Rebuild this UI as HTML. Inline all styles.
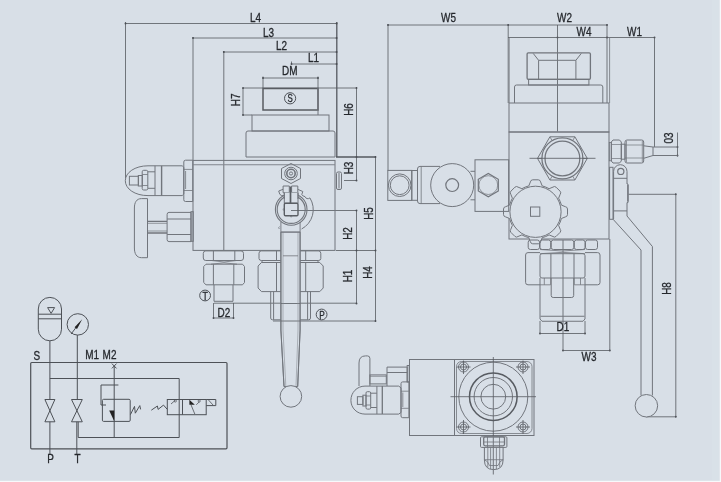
<!DOCTYPE html>
<html>
<head>
<meta charset="utf-8">
<title>Valve block dimensions</title>
<style>
html,body{margin:0;padding:0;background:#d8dfe7;}
body{width:721px;height:482px;overflow:hidden;font-family:"Liberation Sans",sans-serif;}
svg{display:block;position:absolute;left:0;top:0;}
#art{filter:blur(.42px);}
.l{stroke:#71757c;stroke-width:1;fill:none;}
.f{stroke:#71757c;stroke-width:1;fill:#d8dfe7;}
.k{stroke:#585c62;stroke-width:1.5;fill:none;}
.d{stroke:#55595f;stroke-width:0.8;fill:none;}
.s{stroke:#4d5157;stroke-width:1;fill:none;}
text{font-family:"Liberation Sans",sans-serif;font-size:12px;fill:#25282d;stroke:#25282d;stroke-width:.3px;}
.b{fill:#222;stroke:none;}
</style>
</head>
<body>
<svg width="721" height="482" viewBox="0 0 721 482">
<rect x="0" y="0" width="721" height="482" fill="#d8dfe7"/>
<g id="art">

<!-- ================= SIDE VIEW : dimensions ================= -->
<g class="d" id="sv-dims">
<path d="M125.5 23.5H336.5M125.5 22V178"/>
<path d="M193 38H336.5M193 37V160"/>
<path d="M223.8 52H336.5M223.8 51V250"/>
<path d="M291.5 64H336.5M291.5 61.5V64"/>
<path d="M336.8 22V157" stroke-width="1.3"/>
<path d="M263 78H318M263 76.5V88M318 76.5V88"/>
<path d="M243 88H356.5M243 115H252M243 88V115"/>
<path d="M356.5 87V180.5M344 180.5H356.5"/>
<path d="M336 157H376" stroke-width="1.3"/>
<path d="M375.5 156V321.5"/>
<path d="M291 210.5H356.5M356.5 210.5V304"/>
<path d="M336 250.5H376"/>
<path d="M214 303.2H356.5"/>
<path d="M273 321H376"/>
<path d="M213.5 303V318.5M233.5 303V318.5M213.5 318H233.5"/>
</g>
<g id="sv-text">
<text transform="translate(250,22) scale(.83,1)">L4</text>
<text transform="translate(263,36.5) scale(.83,1)">L3</text>
<text transform="translate(276,50) scale(.83,1)">L2</text>
<text transform="translate(308,62) scale(.83,1)">L1</text>
<text transform="translate(282,75) scale(.83,1)">DM</text>
<text transform="translate(217.5,316.5) scale(.83,1)">D2</text>
<text text-anchor="middle" transform="translate(239.8,99.8) rotate(-90) scale(.83,1)">H7</text>
<text text-anchor="middle" transform="translate(352.5,109.5) rotate(-90) scale(.83,1)">H6</text>
<text text-anchor="middle" transform="translate(352.5,168) rotate(-90) scale(.83,1)">H3</text>
<text text-anchor="middle" transform="translate(372.5,213.5) rotate(-90) scale(.83,1)">H5</text>
<text text-anchor="middle" transform="translate(352,233.5) rotate(-90) scale(.83,1)">H2</text>
<text text-anchor="middle" transform="translate(352,276) rotate(-90) scale(.83,1)">H1</text>
<text text-anchor="middle" transform="translate(372,272.5) rotate(-90) scale(.83,1)">H4</text>
</g>

<g id="dots" fill="#4a4e54" stroke="none"><circle cx="125.5" cy="23.5" r=".95"/><circle cx="336.6" cy="23.5" r=".95"/><circle cx="193.0" cy="38.0" r=".95"/><circle cx="336.6" cy="38.0" r=".95"/><circle cx="223.8" cy="52.0" r=".95"/><circle cx="336.6" cy="52.0" r=".95"/><circle cx="291.5" cy="64.0" r=".95"/><circle cx="336.6" cy="64.0" r=".95"/><circle cx="263.0" cy="78.0" r=".95"/><circle cx="318.0" cy="78.0" r=".95"/><circle cx="243.0" cy="88.0" r=".95"/><circle cx="243.0" cy="115.0" r=".95"/><circle cx="356.5" cy="88.0" r=".95"/><circle cx="356.5" cy="157.0" r=".95"/><circle cx="356.5" cy="180.5" r=".95"/><circle cx="375.5" cy="157.0" r=".95"/><circle cx="375.5" cy="321.0" r=".95"/><circle cx="356.5" cy="210.5" r=".95"/><circle cx="356.5" cy="250.5" r=".95"/><circle cx="356.5" cy="303.5" r=".95"/><circle cx="375.5" cy="250.5" r=".95"/><circle cx="213.5" cy="318.0" r=".95"/><circle cx="233.5" cy="318.0" r=".95"/><circle cx="388.0" cy="25.0" r=".95"/><circle cx="508.2" cy="25.0" r=".95"/><circle cx="607.0" cy="25.0" r=".95"/><circle cx="557.5" cy="37.5" r=".95"/><circle cx="607.0" cy="37.5" r=".95"/><circle cx="654.5" cy="37.5" r=".95"/><circle cx="563.0" cy="350.5" r=".95"/><circle cx="609.8" cy="350.5" r=".95"/><circle cx="540.0" cy="333.5" r=".95"/><circle cx="585.0" cy="333.5" r=".95"/><circle cx="675.8" cy="194.3" r=".95"/><circle cx="675.8" cy="416.8" r=".95"/><circle cx="677.5" cy="147.0" r=".95"/><circle cx="677.5" cy="155.5" r=".95"/></g>
<!-- ================= SIDE VIEW : body ================= -->
<g class="l" id="sv-body">
<rect class="k" x="263" y="88.5" width="55" height="21.5"/>
<path d="M318 88V115"/>
<rect x="252" y="115" width="77" height="16"/>
<path d="M246 157V133Q246 131 248 131H333Q335 131 335 133V157Z"/>
<rect x="193" y="160.4" width="142" height="90"/>
<path d="M193 164.7H335" stroke-width="1.1" stroke="#80858c"/>
<!-- hex screw -->
<path d="M291 163.5L300.5 168.5V178.5L291 183.5L281.5 178.5V168.5Z"/>
<circle cx="291" cy="173.5" r="6.3"/>
<circle cx="291" cy="173.5" r="4.2" stroke-width="1.6"/>
<circle cx="291" cy="173.5" r="1.6"/>
<!-- right plug -->
<rect x="336.5" y="172" width="5" height="17.5" rx="1.5"/>
<path d="M339 173V188.5"/>
</g>

<!-- left relief cap + hex -->
<g class="l" id="sv-left">
<!-- hex nut, 3 facets -->
<path d="M185.5 160.2H192.8V201.5H185.5Q183.8 201.5 183.8 199.8V162Q183.8 160.2 185.5 160.2Z"/>
<path d="M183.8 169.4H192.8M183.8 190.5H192.8M185.6 171V189" stroke-width=".8"/>
<!-- dome -->
<path d="M182.2 165.8H148C135 165.8 125.3 172.5 125.3 180.7C125.3 189 135 195.6 148 195.6H182.2L183.8 194V167.3Z"/>
<path d="M155 165.8V195.6"/><path d="M161.6 165.8V195.6" stroke-width="1.4"/>
<rect x="129.4" y="176.3" width="9" height="8.7"/>
<rect x="138.3" y="175.5" width="4" height="10.5"/>
<rect x="142.2" y="170.3" width="5.6" height="19.7" rx="1.5"/>
<path d="M142.2 174.5H147.8M142.2 185.5H147.8" stroke-width=".8"/>
<path d="M147.8 171.8H155M147.8 188.3H155"/>
<!-- T handle -->
<path d="M147.5 198.6H141.5C136.5 198.6 134.4 202.5 134.4 208V248C134.4 253.5 136.5 257.7 141.5 257.7H147.5Z"/>
<path d="M147.5 221.3H167M147.5 233H167" stroke-width="1.3"/>
<path d="M147.5 223.3H167M147.5 231H167" stroke-width=".7"/>
<path d="M169 212.4H191V241.6H169Q167.1 241.6 167.1 239.5V214.5Q167.1 212.4 169 212.4Z"/>
<path d="M167.1 219H191M167.1 234.5H191"/>
<rect x="191" y="211.7" width="2.2" height="29.6"/>
</g>

<!-- bottom fittings side view -->
<g class="l" id="sv-fit">
<!-- T fitting -->
<rect x="203.3" y="250.9" width="40.2" height="9.6" rx="2.5"/>
<path d="M213.4 251V260.5M234.8 251V260.5"/>
<path d="M211.5 260.5Q224 263.5 236.5 260.5M211 264.2Q224 261.5 237 264.2" stroke-width=".8"/>
<path d="M206 264.2H242.5L244.5 266.5V282.5L242.5 284.8H206L203.7 282.5V266.5Z"/>
<path d="M213.4 264.2V284.8M233.8 264.2V284.8"/>
<path d="M214 284.8V301.3H233V284.8"/>
<!-- P fitting left -->
<path d="M280.9 250.9H261.5Q259 250.9 259 253.2V258.5Q259 260.5 261.5 260.5H280.9"/>
<path d="M276.5 251V260.5"/>
<path d="M282 262.5H261.5L258.1 266V288L261.5 291.6H282"/>
<path d="M276.5 262.5V291.6M262 260.5V262.5"/>
<path d="M270.7 291.6V318Q270.7 319.8 272.5 319.8H282M273.6 291.6V319.8"/>
<!-- P fitting right -->
<path d="M300 250.9H318.3Q320.8 250.9 320.8 253.2V258.5Q320.8 260.5 318.3 260.5H300"/>
<path d="M305.7 251V260.5"/>
<path d="M300 262.5H319.8L323.2 266V288L319.8 291.6H300"/>
<path d="M305.7 262.5V291.6M318 260.5V262.5"/>
<path d="M310.5 291.6V318Q310.5 319.8 308.7 319.8H300M307.6 291.6V319.8"/>
</g>

<!-- ball valve shaft + handle -->
<g class="l" id="sv-handle">
<circle cx="291.2" cy="209.4" r="14" stroke-width="1.1"/>
<circle cx="291.2" cy="209.4" r="15.8" stroke-width="1.1"/>
<path d="M297.7 189.3L302.8 191.5L301.8 194.5Q303 196.5 305 196.6A3 3 0 0 0 309.9 197.9A22 22 0 0 1 301.6 229"/>
<path d="M283.1 189.3L278.7 191L279.8 194.3Q281 195.8 283.5 195.8"/>
<path class="f" d="M283.1 186H289.3V192.7H283.1ZM291.6 186H297.8V192.7H291.6Z"/>
<path class="f" d="M284.3 192.7V203.3H298V192.7" stroke="none"/>
<path d="M284.3 192.7V199M298 192.7V199"/>
<rect x="284.3" y="203.3" width="13.7" height="12.4" rx="1.2" stroke-width="1.4" stroke="#5a5e64"/>
<path d="M290.5 186.5V203.3" stroke-width="1.7" stroke="#5a5e64"/>
<path d="M284.3 208.3L282.8 209.5L284.3 210.7M290 215.7L291.2 217.2L292.4 215.7" stroke-width=".8"/>
<path class="f" stroke="none" d="M280.9 232.1V330L284 386.5H297.7L300.1 330V232.1Z"/>
<path class="d" d="M280.9 303.5H300.1M280.9 321H300.1"/>
<path d="M280.9 222V330L284 386.5M300.1 222V330L297.7 386.5" stroke-width=".9"/>
<path d="M283 232V330L285.8 386M298 232V330L296 386" stroke-width=".6" stroke="#8a8f96"/>
<path d="M280.9 232.1H300.1M283 255.8H298" stroke-width=".8"/>
<path d="M279.5 226.5Q278 227.5 279.3 229" stroke-width=".8"/>
<circle cx="290.9" cy="396.4" r="10.8" class="f"/>
</g>

<!-- port symbols -->
<g class="s">
<circle cx="205.1" cy="295.5" r="5.4"/>
<circle cx="321.6" cy="314.5" r="5.4"/>
<circle cx="290.1" cy="98.3" r="5.6"/>
</g>
<text style="font-size:11px" text-anchor="middle" transform="translate(290.1,102.3) scale(.72,1)">S</text>
<text style="font-size:11px" text-anchor="middle" transform="translate(205.1,299.8) scale(.8,1)">T</text>
<text style="font-size:11px" text-anchor="middle" transform="translate(321.9,318.5) scale(.75,1)">P</text>


<!-- ================= FRONT VIEW : dimensions ================= -->
<g class="d" id="fv-dims">
<path d="M388 25H607M388 24V170.5"/>
<path d="M508.2 24V103M607 24V103"/>
<path d="M508 37.5H654.5M654.5 37.5V147"/>
<path d="M557.5 25V131.5"/>
<path d="M563 240V350.5M563 350.5H609.5M609.8 239V351"/>
<path d="M540 321V334M585 321V334M540 333.5H585"/>
<path d="M628.5 194.3H675.8M675.8 194.3V416.8M646 416.8H675.8"/>
<path d="M677.5 132.5V156.5"/>
</g>
<g id="fv-text">
<text transform="translate(441,22) scale(.83,1)">W5</text>
<text transform="translate(557,22) scale(.83,1)">W2</text>
<text transform="translate(576.5,36.3) scale(.83,1)">W4</text>
<text transform="translate(627,36.3) scale(.83,1)">W1</text>
<text transform="translate(581.5,361.3) scale(.83,1)">W3</text>
<text transform="translate(556.5,331.3) scale(.83,1)">D1</text>
<text text-anchor="middle" transform="translate(673,138) rotate(-90) scale(.83,1)">03</text>
<text text-anchor="middle" transform="translate(671,288.5) rotate(-90) scale(.83,1)">H8</text>
</g>

<!-- ================= FRONT VIEW : body ================= -->
<g class="l" id="fv-body">
<rect x="509" y="103" width="100" height="29"/>
<path d="M509.2 37.5V103M609.6 37.5V103" stroke-width=".8"/>
<rect x="509" y="132" width="100" height="107"/>
<!-- top cap -->
<path d="M514.5 103V87Q514.5 85 516.5 85H600.8Q602.8 85 602.8 87V103"/>
<rect x="528.6" y="79.3" width="60.3" height="5.7"/>
<rect x="527.1" y="52.8" width="63.3" height="26.5" rx="1.2" stroke-width="1.3"/>
<path d="M533.2 53.4L538.6 60.3H575.9L581.3 53.4M538.6 60.3V79.3M575.9 60.3V79.3"/>
<!-- big hex plug -->
<path d="M587.3 158.4L574.9 180.0L549.9 180.0L537.5 158.4L549.9 136.8L574.9 136.8Z"/>
<path d="M587.3 158.4L583.2 158.4M574.9 180.0L572.8 176.4M549.9 180.0L552.0 176.4M537.5 158.4L541.6 158.4M549.9 136.8L552.0 140.4M574.9 136.8L572.8 140.4" stroke-width=".8"/>
<circle cx="562.4" cy="158.4" r="20.5" stroke-width="1.25"/>
<circle cx="562.4" cy="158.4" r="17.4" stroke-width="1.25"/>
<path d="M529.5 158.3H595.5" class="d"/>
<!-- handwheel -->
<path class="f" d="M528.8 185.9L530.4 181.9Q530.5 180.1 532.7 179.8L538.3 179.8Q540.5 180.1 540.6 181.9L542.2 185.9A26.8 26.8 0 0 1 549.1 188.7L553.0 187.1Q554.4 185.8 556.1 187.2L560.1 191.2Q561.5 192.9 560.2 194.3L558.6 198.2A26.8 26.8 0 0 1 561.4 205.1L565.4 206.7Q567.2 206.8 567.5 209.0L567.5 214.6Q567.2 216.8 565.4 216.9L561.4 218.5A26.8 26.8 0 0 1 558.6 225.4L560.2 229.3Q561.5 230.7 560.1 232.4L556.1 236.4Q554.4 237.8 553.0 236.5L549.1 234.9A26.8 26.8 0 0 1 542.2 237.7L540.6 241.7Q540.5 243.5 538.3 243.8L532.7 243.8Q530.5 243.5 530.4 241.7L528.8 237.7A26.8 26.8 0 0 1 521.9 234.9L518.0 236.5Q516.6 237.8 514.9 236.4L510.9 232.4Q509.5 230.7 510.8 229.3L512.4 225.4A26.8 26.8 0 0 1 509.6 218.5L505.6 216.9Q503.8 216.8 503.5 214.6L503.5 209.0Q503.8 206.8 505.6 206.7L509.6 205.1A26.8 26.8 0 0 1 512.4 198.2L510.8 194.3Q509.5 192.9 510.9 191.2L514.9 187.2Q516.6 185.8 518.0 187.1L521.9 188.7A26.8 26.8 0 0 1 528.8 185.9Z"/>
<circle cx="535.5" cy="211.8" r="25.6"/>
<rect x="530.5" y="207" width="9.3" height="9.3"/>
<!-- right fitting -->
<rect x="609.3" y="142.5" width="2" height="18.3" stroke-width=".8"/>
<path d="M613 140H619.5L621.3 142V161L619.5 163H613L611.3 161V142Z"/>
<path d="M611.3 144.5H621.3M611.3 158.5H621.3" stroke-width=".7"/>
<rect x="621.3" y="144.2" width="3.7" height="15"/>
<rect x="625" y="140" width="18.7" height="23" rx="2"/>
<path d="M626.5 141V162M642.3 141V162M625 145H643.7M625 158H643.7" stroke-width=".7"/>
<path d="M643.7 145.8L653 147H677.5M643.7 158.3L653 155.5H677.5M653 147V155.5"/>
<!-- lever -->
<rect x="609.6" y="167.3" width="3.4" height="52"/>
<path d="M613.6 219V171.4A6.7 6.7 0 0 1 627 171.4V184H628V202.6H627V216L652.4 246.5V395.5"/>
<path d="M627.9 185V201.5" stroke-width="1.3"/>
<path d="M613 219.2L641 250V395.5M613.6 178.3H627M613.6 210.9H627"/>
<circle cx="620.8" cy="171.4" r="3.1" stroke-width="1.2"/>
<circle cx="646.4" cy="405.75" r="11.25" class="f"/>
<!-- bottom fitting -->
<rect x="528.2" y="240" width="11.3" height="9.5" rx="2.2"/><rect x="540" y="240" width="10.7" height="9.5" rx="2.2"/><rect x="551.2" y="240" width="22.6" height="9.5" rx="2.2"/><rect x="574.3" y="240" width="10.7" height="9.5" rx="2.2"/><rect x="585.5" y="240" width="12" height="9.5" rx="2.2"/>
<path d="M540 249.5Q562.5 252.5 585 249.5M540 253.7Q562.5 251 585 253.7" stroke-width=".8"/>
<path d="M540 284.8H528Q525.6 284.8 525.6 282.5V255Q525.6 252.6 528 252.6H540"/>
<path d="M585 284.8H597.6Q600 284.8 600 282.5V255Q600 252.6 597.6 252.6H585"/>
<rect x="540" y="253.7" width="45" height="24.3" rx="2"/>
<path d="M550.9 253.7V278M574 253.7V278"/>
<path d="M544.3 278V284.8M550.6 278V284.8M574.3 278V284.8M580.5 278V284.8M540 284.8H550.6M574.3 284.8H585" stroke-width=".8"/>
<path d="M551.2 278V295.5Q551.2 297.5 553.2 297.5H571.7Q573.7 297.5 573.7 295.5V278"/>
<path d="M540 278V319L542 321.25H583L585 319V278M540.5 316.25H584.5"/>
</g>

<!-- left fitting of front view -->
<g class="l" id="fv-left">
<rect x="387.8" y="170.4" width="24" height="30"/>
<circle cx="399.7" cy="185.2" r="11.3"/>
<circle cx="399.7" cy="185.2" r="9.4"/>
<rect x="411.8" y="170.5" width="5.7" height="29.8"/>
<path d="M440 166.4H420Q417.5 166.4 417.5 169V201Q417.5 203.6 420 203.6H440"/>
<path d="M421.2 166.4V203.6" stroke-width=".8"/>
<circle cx="452.2" cy="185.1" r="21.5" class="f"/>
<circle cx="452.2" cy="185.1" r="6.4" stroke-width="1.2"/>
<rect x="475" y="159.8" width="33.7" height="51.6"/>
<path d="M498.3 190.9L488.3 196.7L478.3 190.9L478.3 179.3L488.3 173.5L498.3 179.3Z" stroke-width="1.2"/>
<circle cx="488.3" cy="185.1" r="9.4" stroke-width=".7"/>
<path d="M470.5 171.3H475M470.5 199.8H475"/>
</g>

<!-- ================= BOTTOM VIEW ================= -->
<g class="l" id="bv">
<rect x="409.5" y="359.5" width="124.5" height="76"/>
<path d="M454.5 359.5V435.5"/>
<rect x="456.5" y="361.5" width="75.5" height="72" rx="5" stroke-width=".8"/>
<circle cx="463.5" cy="367" r="5"/><circle cx="463.5" cy="367" r="3"/>
<circle cx="523" cy="367" r="5"/><circle cx="523" cy="367" r="3"/>
<circle cx="463.5" cy="427" r="5"/><circle cx="463.5" cy="427" r="3"/>
<circle cx="523" cy="427" r="5"/><circle cx="523" cy="427" r="3"/>
<path class="d" d="M456.5 367H470.5M463.5 360.5V374M516 367H530M523 360.5V374M456.5 427H470.5M463.5 420V434M516 427H530M523 420V434" stroke-width=".6"/>
<circle cx="493.3" cy="396.7" r="34.5"/>
<circle cx="493.3" cy="396.7" r="23.8" class="k"/>
<circle cx="493.3" cy="396.7" r="19.2"/>
<circle cx="493.3" cy="396.7" r="12.4"/>
<path class="d" d="M450.5 396.7H536M493.3 357V474.5"/>
<!-- bottom fitting -->
<rect x="480.5" y="436.8" width="26.4" height="10.6" rx="1"/>
<rect x="483.7" y="436.8" width="20.8" height="9" rx="1.5" stroke-width="1.3"/>
<path d="M487.5 437V447.2M499.5 437V447.2M484 442H504.3" stroke-width=".8"/>
<path d="M484.4 447.4V460Q484.4 469.6 493.7 469.6Q503.1 469.6 503.1 460V447.4"/>
<path d="M487.8 447.4V467M490.6 447.4V469M496.4 447.4V469M499.7 447.4V467M484.4 459.7H503.1M484.4 459.7Q488 461 489.5 465.5M503.1 459.7Q499.5 461 498 465.5M489.5 465.5H498" stroke-width=".8"/>
<!-- T handle -->
<path d="M359 386V363Q359 355.9 365.5 355.9H367.5Q369.9 355.9 369.9 358.5V386"/>
<rect x="369.9" y="374.9" width="16.4" height="9"/>
<path d="M369.9 376.3H386.3" stroke-width=".7"/>
<path d="M387 386V367.1H407.2V382M387 372.5H407.2"/>
<rect x="407.2" y="365.5" width="2" height="16.5"/>
<!-- relief cap -->
<path d="M398.7 386.1H365C357 386.1 350.9 392.5 350.9 400.3C350.9 408 357 414.1 365 414.1H398.7L401 412.5V387.8Z"/>
<path d="M376.9 386.1V414.1"/><path d="M382.3 386.1V414.1" stroke-width="1.3"/>
<rect x="357.4" y="396.7" width="5.5" height="7.7"/>
<rect x="362.9" y="395.2" width="3.1" height="10.8"/>
<rect x="366" y="391.7" width="4.7" height="17.4" rx="1.3"/>
<path d="M366 396H370.7M366 405H370.7" stroke-width=".8"/>
<path d="M370.7 393.2H376.9M370.7 407.5H376.9"/>
<path d="M402.7 381.9H408.9V417.7H402.7Q401 417.7 401 416V383.6Q401 381.9 402.7 381.9Z"/>
<path d="M401 391.2H408.9M401 408.3H408.9M402.8 392.5V407" stroke-width=".8"/>
</g>

<!-- ================= SCHEMATIC ================= -->
<g class="s" id="sch">
<rect x="30.7" y="362.5" width="196.3" height="86.3" rx="1" stroke-width="1.2"/>
<rect x="38.3" y="297.4" width="23.2" height="43.4" rx="11.6"/>
<path d="M38.3 314.2H61.5M38.3 318.8H61.5M47.6 307.6H54.6L51.1 313.4Z"/>
<path d="M49.9 341V399.5M49.9 421.8V455"/>
<circle cx="77.8" cy="324.4" r="10.7"/>
<path d="M71.1 334L79 323.5"/>
<path d="M77.3 335V399.5M76.8 421.8V455M78.2 421.8V437.5"/>
<path d="M49.9 378.5H179.2V437.5H78.2"/>
<path d="M44.9 399.5H54.9L44.9 421.8H54.9Z"/>
<path d="M71.5 399.5H82.3L71.5 421.8H82.3Z"/>
<path d="M111.9 363.6L116.5 368.4M116.5 363.6L111.9 368.4M114.2 366V437.5"/>
<rect x="102.4" y="399.3" width="27.8" height="22.1" rx="1.2"/>
<path d="M118.4 385H101V405H106"/>
<path d="M130.4 414.7L134.5 406.4L135.3 413.2L139.8 405.6L140.6 409.4"/>
<path d="M151.3 410.2L157.4 406L158.1 409.4L163.5 405.1L167.3 409.4"/>
<rect x="167.3" y="399.5" width="38.9" height="15.2"/>
<path d="M182.5 399.5V414.7M206.2 399.5H215.8V405.6H206.2"/>
<path d="M191 404.8L194.8 414M196.3 404.8L199.3 401.8M208.5 400L213 405M171 404L175 400.5" stroke-width=".8"/>
<circle cx="199.2" cy="401" r="1.1" stroke-width=".7"/>
<circle cx="175.3" cy="401" r="1.1" stroke-width=".7"/>
</g>
<path class="b" d="M82.2 319.3L77 329L74.6 327.2Z"/>
<path class="b" d="M109.2 410.6H114.2V421.3Z"/>
<path class="b" d="M189.4 399.8L194.8 404.8H189.4Z"/>
<g id="sch-text">
<text transform="translate(33.5,359.8) scale(.83,1)">S</text>
<text transform="translate(85.3,358.7) scale(.83,1)">M1</text>
<text transform="translate(102.6,358.7) scale(.83,1)">M2</text>
<text transform="translate(47.2,463.2) scale(.83,1)">P</text>
<text transform="translate(74.6,463.2) scale(.83,1)">T</text>
</g>

</g>
<rect x="719.7" y="0" width="1.3" height="482" fill="#f7f9fb"/>
<rect x="0" y="480.8" width="721" height="1.2" fill="#f7f9fb"/>
<rect x="712" y="0" width="7.7" height="481" fill="#dde4eb" opacity=".35"/>
</svg>
</body>
</html>
